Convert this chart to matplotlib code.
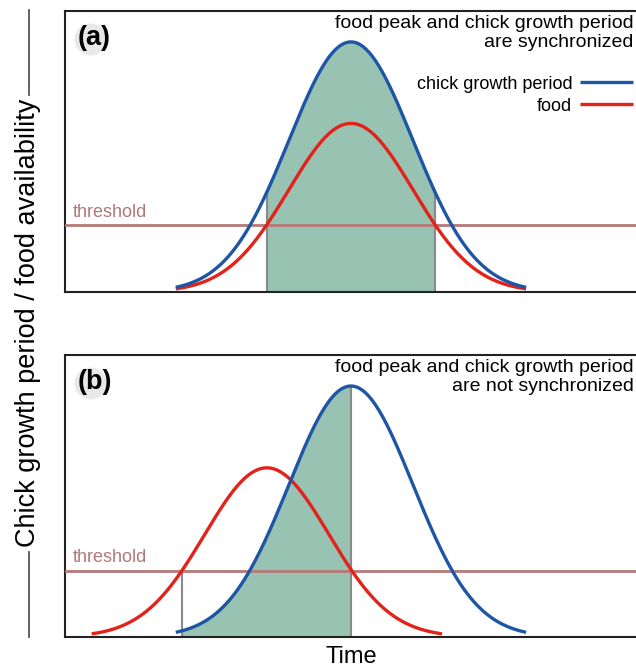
import numpy as np
import matplotlib
matplotlib.use("Agg")
import matplotlib.pyplot as plt
from matplotlib.lines import Line2D

plt.rcParams["font.family"] = ["Liberation Sans", "DejaVu Sans"]

# schematic bell curves: peak time, peak height, spread (time units 0-100)
curve_labels = ["chick growth period", "food"]
curve_colors = ["#1f55a5", "#e2231a"]
peak_time_a = [49.3, 49.3]
peak_height_a = [0.89, 0.60]
peak_time_b = [49.3, 34.8]
peak_height_b = [0.89, 0.60]
spread = [10.7, 10.7]
half_span = 30.2
threshold = [0.238, 0.235]
panel_titles = ["food peak and chick growth period\nare synchronized",
                "food peak and chick growth period\nare not synchronized"]
panel_tags = ["(a)", "(b)"]

FILL = "#98c2b2"
THRESH = "#b87878"
GRAY = "#8a8a8a"


def bell(t, center, height, width):
    return height * np.exp(-(t - center) ** 2 / (2 * width ** 2))


def crossing(center, height, width, level, side):
    d = width * np.sqrt(2 * np.log(height / level))
    return center + side * d


fig = plt.figure(figsize=(6.36, 6.68), dpi=100)
ax_a = fig.add_axes([65 / 636, 1 - 292 / 668, 580 / 636, 281 / 668])
ax_b = fig.add_axes([65 / 636, 1 - 637 / 668, 580 / 636, 282 / 668])

panels = [(ax_a, peak_time_a, peak_height_a), (ax_b, peak_time_b, peak_height_b)]

for i, (ax, times, heights) in enumerate(panels):
    thr = threshold[i]
    curves = []
    for c, h, w in zip(times, heights, spread):
        t = np.linspace(c - half_span, c + half_span, 400)
        curves.append((t, bell(t, c, h, w)))

    # shaded window where chicks are growing and food is above threshold
    if i == 0:
        x0 = crossing(times[1], heights[1], spread[1], thr, -1)
        x1 = crossing(times[1], heights[1], spread[1], thr, 1)
        top0 = bell(x0, times[0], heights[0], spread[0])
        top1 = bell(x1, times[0], heights[0], spread[0])
    else:
        x0 = crossing(times[1], heights[1], spread[1], thr, -1)
        x1 = times[0]
        top0 = thr
        top1 = heights[0]
    tf = np.linspace(x0, x1, 300)
    ax.fill_between(tf, 0, bell(tf, times[0], heights[0], spread[0]),
                    color=FILL, lw=0, zorder=1)
    ax.vlines([x0, x1], 0, [top0, top1], color=GRAY, lw=1.5, zorder=2)

    ax.axhline(thr, color=THRESH, lw=2.0, zorder=3)
    ax.text(1.4, thr + 0.015, "threshold", color="#b07878", fontsize=13,
            ha="left", va="bottom")

    for (t, y), col, lab in zip(curves[::-1], curve_colors[::-1], curve_labels[::-1]):
        ax.plot(t, y, color=col, lw=2.4, solid_capstyle="butt", zorder=4, label=lab)

    ax.text(98.0, 0.985, panel_titles[i], ha="right", va="top", fontsize=14,
            linespacing=1.12)
    ax.plot([0.043], [0.902], "o", ms=23, color="#e8e8e8", mec="none",
            transform=ax.transAxes, clip_on=False, zorder=0.5)
    ax.text(0.051, 0.903, panel_tags[i], transform=ax.transAxes, fontsize=19.5,
            fontweight="bold", ha="center", va="center")

    ax.set_xlim(0, 100)
    ax.set_ylim(0, 1)
    ax.set_xticks([])
    ax.set_yticks([])
    for s in ax.spines.values():
        s.set_linewidth(1.5)
        s.set_color("#222222")

handles, labels = ax_a.get_legend_handles_labels()
ax_a.legend(handles[::-1], labels[::-1], loc="upper right",
            bbox_to_anchor=(0.979, 0.77), frameon=False, markerfirst=False,
            fontsize=13, handlelength=2.9, handletextpad=0.45,
            labelspacing=0.28, borderpad=0, borderaxespad=0)

fig.text(351 / 636, 1 - 663 / 668, "Time", ha="center", va="baseline", fontsize=17)
fig.text(28 / 636, 1 - 323 / 668, "Chick growth period / food availability",
         rotation=90, ha="center", va="center", fontsize=19.5)
for y0, y1 in [(10, 95), (552, 637)]:
    fig.add_artist(Line2D([29 / 636, 29 / 636], [1 - y0 / 668, 1 - y1 / 668],
                          color="#555555", lw=1.3))

fig.savefig("out.png", dpi=100)
